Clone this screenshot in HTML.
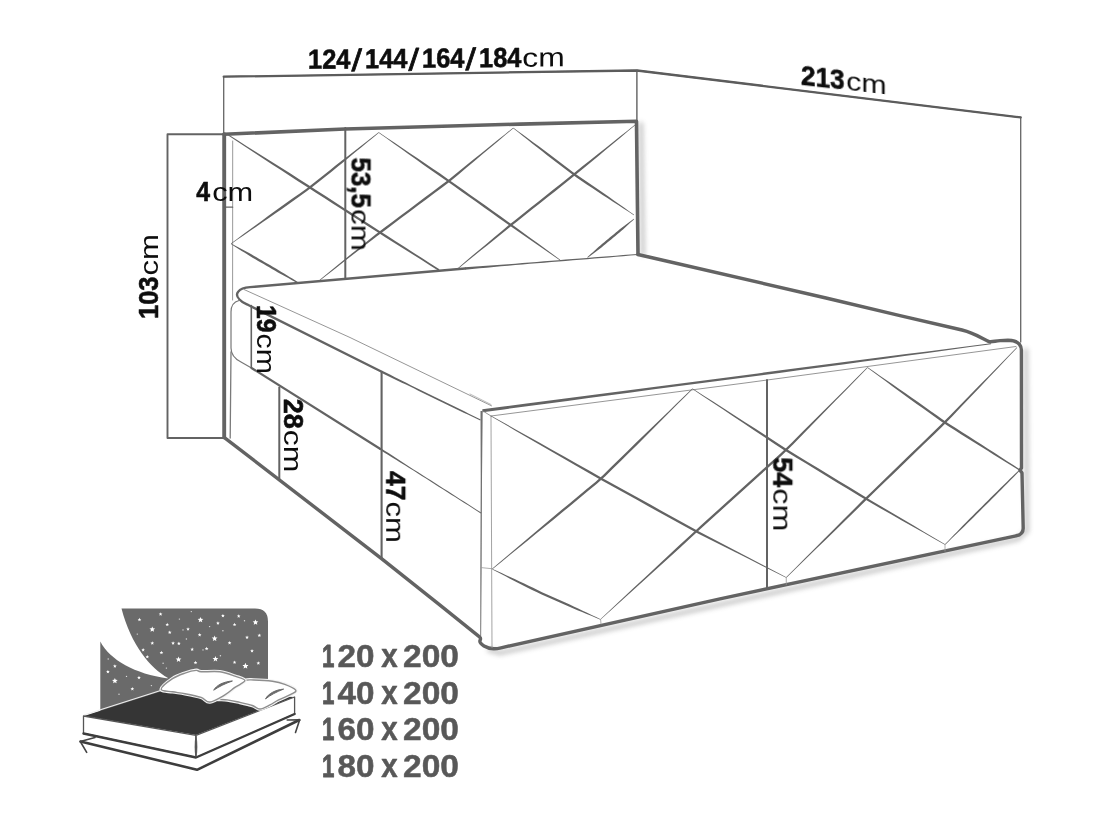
<!DOCTYPE html>
<html lang="pl">
<head>
<meta charset="utf-8">
<title>Wymiary łóżka kontynentalnego</title>
<style>
html,body{margin:0;padding:0;background:#fff;}
body{width:1101px;height:825px;overflow:hidden;}
svg{display:block;}
svg text{font-family:"Liberation Sans",sans-serif;}
</style>
</head>
<body>
<svg width="1101" height="825" viewBox="0 0 1101 825">
<defs>
<filter id="blur3" x="-20%" y="-20%" width="140%" height="140%"><feGaussianBlur stdDeviation="2.4"/></filter>
<filter id="soft" x="-5%" y="-5%" width="110%" height="110%"><feGaussianBlur stdDeviation="0.45"/></filter>
</defs>
<rect x="0" y="0" width="1101" height="825" fill="#ffffff"/>
<g filter="url(#blur3)" opacity="0.45" fill="none" stroke="#777" stroke-width="4" stroke-linecap="round" stroke-linejoin="round">
<polyline points="641,124 643,254"/>
<polyline points="1026,350 1027,531 1018,539 500,653 489,650"/>
</g>
<g filter="url(#soft)">
<polyline points="223.70,134.00 223.70,76.70 637.00,70.50 1020.70,117.40 1020.70,342.00" fill="none" stroke="#666" stroke-width="1.3" stroke-linecap="round" stroke-linejoin="round" />
<polyline points="223.70,76.70 637.00,70.50 1020.70,117.40" fill="none" stroke="#5c5c5c" stroke-width="2.3" stroke-linecap="round" stroke-linejoin="round" />
<polyline points="636.90,70.50 636.90,121.00" fill="none" stroke="#606060" stroke-width="1.4" stroke-linecap="round" stroke-linejoin="round" />
<polyline points="224.00,134.30 167.50,134.30 167.50,438.00 224.00,438.00" fill="none" stroke="#636363" stroke-width="1.9" stroke-linecap="round" stroke-linejoin="round" />
<polyline points="232.70,141.00 232.60,300.00" fill="none" stroke="#999" stroke-width="1.0" stroke-linecap="round" stroke-linejoin="round" />
<polyline points="231.00,352.00 230.20,438.00" fill="none" stroke="#7a7a7a" stroke-width="1.3" stroke-linecap="round" stroke-linejoin="round" />
<polygon points="228.23,135.62 236.95,141.32 245.66,147.02 254.38,152.72 263.10,158.42 271.81,164.13 280.53,169.83 289.25,175.53 298.00,181.17 306.77,186.79 315.53,192.42 324.29,198.05 333.05,203.69 341.81,209.32 350.57,214.95 359.34,220.58 368.10,226.21 376.86,231.84 385.67,237.40 394.49,242.95 403.31,248.49 412.12,254.04 420.94,259.58 429.75,265.13 438.57,270.68 439.43,269.32 430.67,263.70 421.90,258.07 413.14,252.44 404.37,246.81 395.61,241.19 386.85,235.56 378.10,229.92 369.34,224.28 360.58,218.65 351.82,213.02 343.06,207.38 334.30,201.75 325.53,196.12 316.77,190.49 308.01,184.86 299.25,179.23 290.47,173.62 281.66,168.07 272.84,162.52 264.03,156.98 255.21,151.43 246.40,145.88 237.58,140.33 228.77,134.78" fill="#636363"/>
<polygon points="378.56,132.27 372.47,136.99 366.38,141.71 360.28,146.44 354.19,151.16 348.09,155.88 342.00,160.61 335.91,165.33 329.87,170.13 323.85,174.95 317.83,179.76 311.81,184.58 305.69,189.15 299.41,193.63 293.13,198.10 286.85,202.57 280.57,207.04 274.31,211.53 268.10,216.10 261.88,220.67 255.67,225.23 249.46,229.80 243.25,234.37 237.04,238.94 230.83,243.51 231.17,243.99 237.52,239.62 243.87,235.24 250.22,230.87 256.57,226.49 262.92,222.12 269.26,217.74 275.61,213.37 281.91,208.91 288.19,204.44 294.47,199.97 300.75,195.50 307.03,191.03 313.25,186.37 319.27,181.56 325.29,176.74 331.31,171.93 337.31,167.09 343.26,162.18 349.21,157.27 355.15,152.37 361.10,147.46 367.05,142.55 372.99,137.64 378.94,132.73" fill="#636363"/>
<polygon points="378.58,132.75 386.10,138.10 393.62,143.46 401.15,148.81 408.67,154.17 416.19,159.53 423.71,164.88 431.24,170.24 438.81,175.51 446.40,180.77 453.94,186.09 461.47,191.43 469.00,196.78 476.53,202.12 484.06,207.47 491.59,212.81 499.12,218.15 506.66,223.48 514.25,228.74 521.83,234.01 529.42,239.27 537.01,244.53 544.59,249.80 552.18,255.06 559.77,260.33 560.23,259.67 552.77,254.24 545.30,248.81 537.83,243.37 530.37,237.94 522.90,232.51 515.43,227.07 507.97,221.64 500.45,216.28 492.92,210.93 485.39,205.59 477.86,200.25 470.33,194.90 462.80,189.56 455.27,184.22 447.71,178.88 440.12,173.62 432.52,168.38 424.86,163.22 417.21,158.06 409.55,152.90 401.89,147.74 394.24,142.58 386.58,137.42 378.92,132.25" fill="#636363"/>
<polygon points="513.06,127.77 505.07,134.18 497.08,140.60 489.09,147.01 481.09,153.42 473.10,159.84 465.11,166.25 457.12,172.66 449.19,179.15 441.07,185.32 432.87,191.46 424.67,197.60 416.47,203.74 408.27,209.89 400.07,216.03 391.87,222.17 383.67,228.32 375.53,234.58 367.54,241.00 359.55,247.42 351.56,253.83 343.58,260.26 335.64,266.75 327.71,273.24 319.78,279.73 320.22,280.27 328.29,273.96 336.36,267.65 344.43,261.33 352.54,255.08 360.67,248.84 368.79,242.60 376.92,236.35 385.05,230.16 393.25,224.01 401.45,217.87 409.65,211.73 417.85,205.59 426.05,199.44 434.25,193.30 442.45,187.16 450.65,180.93 458.55,174.41 466.39,167.81 474.23,161.21 482.07,154.62 489.92,148.02 497.76,141.42 505.60,134.83 513.44,128.23" fill="#636363"/>
<polygon points="513.07,128.24 517.93,132.09 522.79,135.95 527.65,139.80 532.52,143.66 537.38,147.51 542.24,151.37 547.10,155.22 552.02,159.00 556.95,162.76 561.89,166.52 566.82,170.28 571.76,174.04 576.87,177.66 582.00,181.15 587.14,184.63 592.27,188.11 597.42,191.57 602.62,194.95 607.83,198.33 613.03,201.72 618.23,205.10 623.43,208.48 628.63,211.87 633.83,215.25 634.17,214.75 629.10,211.17 624.03,207.59 618.96,204.02 613.89,200.44 608.82,196.86 603.76,193.28 598.69,189.70 593.56,186.20 588.43,182.72 583.29,179.24 578.16,175.76 573.15,172.22 568.22,168.45 563.28,164.69 558.35,160.93 553.42,157.17 548.47,153.43 543.46,149.76 538.46,146.10 533.45,142.43 528.45,138.76 523.44,135.10 518.44,131.43 513.43,127.76" fill="#636363"/>
<polygon points="634.81,124.77 627.38,130.67 619.94,136.58 612.51,142.49 605.07,148.39 597.63,154.30 590.20,160.20 582.76,166.11 575.39,172.09 567.99,178.01 560.56,183.92 553.12,189.83 545.69,195.74 538.26,201.65 530.83,207.56 523.40,213.47 515.97,219.38 508.56,225.34 501.28,231.44 494.01,237.55 486.74,243.65 479.47,249.76 472.19,255.86 464.92,261.97 457.77,268.23 458.23,268.77 465.51,262.68 472.92,256.75 480.33,250.82 487.75,244.88 495.16,238.95 502.57,233.02 509.99,227.08 517.40,221.18 524.83,215.27 532.26,209.36 539.69,203.45 547.12,197.54 554.56,191.63 561.99,185.72 569.42,179.81 576.84,173.87 584.19,167.86 591.47,161.77 598.76,155.68 606.05,149.59 613.33,143.50 620.62,137.41 627.90,131.32 635.19,125.23" fill="#636363"/>
<polygon points="230.85,244.01 233.56,245.73 236.27,247.44 238.98,249.16 241.69,250.88 244.41,252.59 247.12,254.31 249.83,256.03 252.59,257.66 255.36,259.27 258.13,260.89 260.90,262.50 263.67,264.12 266.44,265.73 269.21,267.35 271.98,268.96 274.75,270.58 277.53,272.18 280.34,273.73 283.15,275.28 285.96,276.82 288.77,278.37 291.58,279.92 294.39,281.47 297.20,283.02 297.80,281.98 295.07,280.30 292.34,278.62 289.60,276.94 286.87,275.26 284.14,273.58 281.41,271.90 278.68,270.22 275.91,268.59 273.14,266.98 270.37,265.36 267.60,263.75 264.83,262.13 262.06,260.52 259.29,258.90 256.52,257.29 253.75,255.67 250.96,254.08 248.13,252.57 245.30,251.05 242.47,249.54 239.64,248.03 236.81,246.52 233.98,245.00 231.15,243.49" fill="#636363"/>
<polygon points="633.81,218.77 631.80,220.28 629.78,221.80 627.77,223.31 625.76,224.82 623.74,226.34 621.73,227.85 619.72,229.36 617.77,230.95 615.83,232.55 613.89,234.16 611.95,235.76 610.02,237.36 608.08,238.97 606.14,240.57 604.20,242.18 602.27,243.78 600.34,245.40 598.47,247.09 596.60,248.77 594.73,250.45 592.86,252.14 590.99,253.82 589.12,255.51 587.24,257.19 587.76,257.81 589.76,256.28 591.76,254.76 593.77,253.24 595.77,251.71 597.77,250.19 599.78,248.66 601.78,247.14 603.73,245.55 605.67,243.95 607.61,242.34 609.55,240.74 611.48,239.14 613.42,237.53 615.36,235.93 617.30,234.32 619.23,232.72 621.16,231.10 623.02,229.40 624.88,227.71 626.74,226.01 628.60,224.32 630.47,222.62 632.33,220.93 634.19,219.23" fill="#636363"/>
<polyline points="224.20,437.40 224.20,134.30" fill="none" stroke="#636363" stroke-width="3.9" stroke-linecap="round" stroke-linejoin="round" />
<polyline points="224.20,134.30 345.00,129.00 425.00,126.70 520.00,124.10 636.50,121.30 638.00,254.50" fill="none" stroke="#636363" stroke-width="3.6" stroke-linecap="round" stroke-linejoin="round" />
<polyline points="224.40,207.20 232.60,207.20" fill="none" stroke="#636363" stroke-width="1.3" stroke-linecap="round" stroke-linejoin="round" />
<path d="M465,268.5 L250,287.2 C238,288.2 234,294 239.5,299.5 C242,302.5 245,303.5 248.3,305 L381.7,371.7" fill="none" stroke="#636363" stroke-width="2.3" stroke-linecap="round" stroke-linejoin="round" />
<polygon points="465.09,269.65 472.28,268.99 479.46,268.32 486.64,267.66 493.82,267.00 501.00,266.34 508.18,265.68 515.36,265.02 522.55,264.41 529.73,263.82 536.92,263.23 544.11,262.64 551.29,262.05 558.48,261.47 565.67,260.90 572.86,260.32 580.05,259.75 587.23,259.17 594.42,258.57 601.61,257.98 608.79,257.38 615.98,256.79 623.17,256.19 630.35,255.59 637.54,255.00 637.46,254.00 630.27,254.56 623.08,255.11 615.89,255.66 608.70,256.22 601.51,256.77 594.32,257.33 587.13,257.88 579.94,258.45 572.75,259.03 565.57,259.60 558.38,260.18 551.19,260.75 544.00,261.34 536.81,261.93 529.63,262.53 522.44,263.12 515.25,263.70 508.06,264.22 500.87,264.74 493.68,265.26 486.48,265.79 479.29,266.31 472.10,266.83 464.91,267.35" fill="#636363"/>
<polygon points="381.19,372.73 385.32,374.71 389.46,376.70 393.59,378.68 397.72,380.66 401.85,382.64 405.98,384.62 410.11,386.60 414.23,388.62 418.34,390.65 422.45,392.67 426.56,394.70 430.68,396.72 434.80,398.72 438.92,400.72 443.05,402.72 447.17,404.72 451.29,406.71 455.43,408.69 459.56,410.66 463.70,412.64 467.83,414.61 471.97,416.59 476.10,418.56 480.24,420.54 480.76,419.46 476.65,417.44 472.54,415.41 468.43,413.38 464.32,411.36 460.21,409.33 456.10,407.31 451.99,405.28 447.87,403.28 443.74,401.28 439.62,399.28 435.50,397.28 431.38,395.28 427.27,393.26 423.16,391.24 419.05,389.21 414.94,387.19 410.83,385.15 406.74,383.08 402.65,381.01 398.56,378.94 394.47,376.88 390.39,374.81 386.30,372.74 382.21,370.67" fill="#636363"/>
<polyline points="244.00,289.50 350.00,337.50 491.50,405.80" fill="none" stroke="#8a8a8a" stroke-width="0.9" stroke-linecap="round" stroke-linejoin="round" />
<path d="M638,254.5 L826,298 L900,315.6 L962,330 C975,333.2 983,339 989,341.6 C992,342.3 995,341 1000,340.6 L1008,340.3 C1016,340.3 1021,343.5 1021.4,350 L1021.5,468 L1020,470 L1022,473 L1023.2,528 C1023.3,533 1021,535 1016,535.8 L720,598.8 L501,647.8 C494,649.5 488,648.5 484,646 C481,644 479.2,642.5 480,640.5 C480.8,639 481,638 479.5,636.8 L440,605.2 L381.2,558.3 L224.4,437.6" fill="none" stroke="#636363" stroke-width="3.4" stroke-linecap="round" stroke-linejoin="round" />
<path d="M239,300.5 C233,302 231,306 231,312 L231,348 C231,355 235,359 241,362 L251.5,368" fill="none" stroke="#777" stroke-width="1.2" stroke-linecap="round" stroke-linejoin="round" />
<polyline points="251.50,368.00 380.00,448.75" fill="none" stroke="#636363" stroke-width="2.2" stroke-linecap="round" stroke-linejoin="round" />
<polygon points="379.46,449.59 383.71,452.22 387.95,454.84 392.20,457.46 396.44,460.08 400.68,462.70 404.93,465.32 409.17,467.94 413.39,470.60 417.60,473.28 421.81,475.95 426.02,478.62 430.23,481.30 434.44,483.98 438.64,486.66 442.85,489.34 447.05,492.02 451.26,494.70 455.48,497.37 459.69,500.04 463.90,502.70 468.12,505.37 472.33,508.04 476.54,510.71 480.76,513.38 481.24,512.62 477.04,509.93 472.84,507.24 468.65,504.54 464.45,501.85 460.25,499.16 456.05,496.47 451.85,493.78 447.65,491.09 443.44,488.41 439.23,485.73 435.03,483.05 430.82,480.37 426.61,477.70 422.40,475.02 418.19,472.35 413.98,469.68 409.78,466.99 405.60,464.26 401.42,461.54 397.24,458.81 393.07,456.09 388.89,453.36 384.71,450.63 380.54,447.91" fill="#636363"/>
<polygon points="482.70,412.24 503.88,409.40 525.06,406.57 546.24,403.74 567.42,400.91 588.61,398.07 609.79,395.24 630.97,392.41 652.16,389.61 673.35,386.83 694.53,384.04 715.72,381.26 736.91,378.47 758.10,375.68 779.29,372.88 800.47,370.08 821.66,367.28 842.84,364.46 864.02,361.57 885.19,358.67 906.36,355.78 927.54,352.88 948.71,349.99 969.89,347.09 991.06,344.20 990.94,343.30 969.74,346.01 948.54,348.71 927.34,351.41 906.14,354.11 884.94,356.82 863.75,359.52 842.55,362.22 821.36,365.00 800.17,367.80 778.98,370.60 757.80,373.40 736.61,376.19 715.42,378.98 694.23,381.76 673.05,384.55 651.86,387.33 630.67,390.11 609.47,392.84 588.28,395.58 567.08,398.32 545.89,401.05 524.69,403.79 503.50,406.53 482.30,409.26" fill="#636363"/>
<polyline points="491.00,416.00 745.00,383.00 1016.00,346.50" fill="none" stroke="#8a8a8a" stroke-width="0.9" stroke-linecap="round" stroke-linejoin="round" />
<polygon points="480.50,411.00 480.53,420.37 480.56,429.75 480.58,439.12 480.61,448.50 480.64,457.87 480.67,467.25 480.70,476.62 480.67,486.00 480.64,495.37 480.61,504.75 480.57,514.12 480.53,523.50 480.49,532.87 480.45,542.25 480.41,551.62 480.37,561.00 480.34,570.37 480.33,579.75 480.31,589.12 480.30,598.50 480.29,607.87 480.28,617.25 480.26,626.62 480.25,636.00 481.15,636.00 481.22,626.63 481.29,617.25 481.35,607.88 481.42,598.50 481.49,589.13 481.56,579.75 481.63,570.38 481.67,561.00 481.71,551.63 481.75,542.25 481.79,532.88 481.83,523.50 481.87,514.13 481.91,504.75 481.94,495.38 481.97,486.00 482.02,476.63 482.12,467.25 482.22,457.88 482.31,448.50 482.41,439.13 482.51,429.75 482.60,420.38 482.70,411.00" fill="#707070"/>
<polyline points="481.00,567.60 492.50,568.75" fill="none" stroke="#999" stroke-width="0.8" stroke-linecap="round" stroke-linejoin="round" />
<polyline points="491.00,416.00 492.00,647.50" fill="none" stroke="#999" stroke-width="0.9" stroke-linecap="round" stroke-linejoin="round" />
<polyline points="482.50,410.75 491.00,416.00" fill="none" stroke="#888" stroke-width="0.9" stroke-linecap="round" stroke-linejoin="round" />
<polyline points="470.00,394.00 491.00,404.50" fill="none" stroke="#aaa" stroke-width="0.8" stroke-linecap="round" stroke-linejoin="round" />
<polygon points="490.83,416.30 502.95,423.35 515.08,430.40 527.21,437.44 539.33,444.49 551.46,451.53 563.59,458.58 575.71,465.62 587.88,472.59 600.07,479.54 612.36,486.32 624.64,493.09 636.93,499.86 649.21,506.63 661.49,513.40 673.77,520.17 686.05,526.94 698.42,533.63 710.95,539.94 723.47,546.24 736.00,552.55 748.53,558.85 761.06,565.16 773.59,571.46 786.11,577.77 786.39,577.23 773.97,570.72 761.55,564.20 749.13,557.69 736.71,551.17 724.29,544.66 711.87,538.14 699.45,531.63 687.16,524.93 674.88,518.16 662.60,511.39 650.32,504.62 638.04,497.85 625.75,491.08 613.47,484.31 601.21,477.54 589.02,470.59 576.83,463.66 564.59,456.81 552.36,449.96 540.12,443.11 527.88,436.25 515.65,429.40 503.41,422.55 491.17,415.70" fill="#636363"/>
<polygon points="692.29,388.54 684.21,396.32 676.12,404.11 668.04,411.89 659.96,419.67 651.88,427.46 643.79,435.24 635.71,443.03 627.69,450.88 619.69,458.75 611.69,466.62 603.69,474.49 595.41,481.89 586.77,489.06 578.13,496.22 569.50,503.39 560.86,510.55 552.24,517.73 543.68,524.99 535.12,532.24 526.55,539.50 517.99,546.75 509.43,554.01 500.87,561.26 492.31,568.52 492.69,568.98 501.40,561.91 510.12,554.83 518.83,547.76 527.54,540.69 536.25,533.61 544.96,526.54 553.68,519.47 562.33,512.32 570.97,505.16 579.60,497.99 588.24,490.83 596.88,483.67 605.31,476.13 613.31,468.26 621.31,460.39 629.31,452.52 637.29,444.64 645.21,436.68 653.12,428.73 661.04,420.78 668.96,412.82 676.88,404.87 684.79,396.92 692.71,388.96" fill="#636363"/>
<polygon points="692.34,389.00 702.61,395.88 712.89,402.75 723.17,409.62 733.45,416.50 743.73,423.37 754.01,430.25 764.28,437.12 774.61,443.92 784.96,450.69 795.54,457.16 806.10,463.59 816.66,470.03 827.21,476.46 837.77,482.90 848.33,489.33 858.89,495.76 869.54,502.10 880.30,508.19 891.05,514.29 901.81,520.38 912.57,526.48 923.33,532.57 934.09,538.67 944.85,544.76 945.15,544.24 934.51,537.94 923.87,531.64 913.23,525.34 902.59,519.05 891.95,512.75 881.31,506.45 870.67,500.15 860.09,493.80 849.53,487.37 838.97,480.93 828.41,474.50 817.85,468.06 807.29,461.63 796.73,455.19 786.22,448.77 775.87,441.99 765.52,435.24 755.11,428.56 744.70,421.88 734.29,415.21 723.89,408.53 713.48,401.85 703.07,395.18 692.66,388.50" fill="#636363"/>
<polygon points="867.29,367.29 856.45,378.09 845.61,388.89 834.78,399.69 823.94,410.49 813.11,421.29 802.27,432.09 791.43,442.90 780.46,453.46 769.12,463.73 757.78,474.00 746.44,484.26 735.10,494.53 723.76,504.80 712.41,515.07 701.07,525.33 689.77,535.66 678.53,546.04 667.35,556.48 656.18,566.93 645.00,577.38 633.82,587.83 622.65,598.28 611.47,608.73 600.30,619.18 600.70,619.62 612.04,609.35 623.37,599.07 634.71,588.79 646.05,578.52 657.38,568.24 668.72,557.97 680.05,547.69 691.32,537.35 702.61,527.04 713.96,516.77 725.30,506.50 736.64,496.24 747.98,485.97 759.32,475.70 770.67,465.43 782.01,455.17 793.04,444.48 803.71,433.51 814.37,422.55 825.04,411.58 835.71,400.61 846.38,389.64 857.05,378.68 867.71,367.71" fill="#636363"/>
<polygon points="867.33,367.74 873.49,372.28 879.65,376.81 885.82,381.34 891.98,385.88 898.14,390.41 904.31,394.94 910.47,399.48 916.69,403.93 922.92,408.37 929.15,412.81 935.39,417.24 941.62,421.68 948.04,425.95 954.50,430.04 960.97,434.13 967.43,438.23 973.90,442.31 980.41,446.33 986.91,450.36 993.41,454.39 999.92,458.42 1006.42,462.45 1012.93,466.48 1019.43,470.51 1020.07,469.49 1013.65,465.34 1007.23,461.18 1000.80,457.02 994.38,452.86 987.96,448.70 981.54,444.55 975.12,440.39 968.66,436.28 962.20,432.19 955.73,428.10 949.27,424.00 942.95,419.81 936.72,415.37 930.49,410.93 924.26,406.50 918.02,402.06 911.78,397.64 905.48,393.30 899.18,388.96 892.88,384.62 886.58,380.28 880.28,375.94 873.97,371.60 867.67,367.26" fill="#636363"/>
<polygon points="1016.78,347.29 1007.28,356.99 997.78,366.68 988.27,376.38 978.77,386.07 969.26,395.77 959.76,405.47 950.26,415.16 940.74,424.78 930.98,434.23 921.23,443.67 911.48,453.12 901.72,462.56 891.97,472.00 882.22,481.45 872.46,490.89 862.72,500.37 853.08,509.92 843.50,519.55 833.93,529.17 824.35,538.79 814.77,548.42 805.19,558.04 795.62,567.66 786.04,577.29 786.46,577.71 796.20,568.26 805.95,558.80 815.69,549.35 825.43,539.89 835.18,530.44 844.92,520.98 854.66,511.53 864.34,502.00 874.06,492.54 883.82,483.10 893.57,473.66 903.32,464.21 913.08,454.77 922.83,445.32 932.58,435.88 942.34,426.44 951.88,416.72 961.21,406.86 970.55,397.01 979.88,387.15 989.21,377.29 998.55,367.43 1007.88,357.57 1017.22,347.71" fill="#636363"/>
<polygon points="492.37,569.47 496.77,571.76 501.18,574.05 505.58,576.34 509.98,578.64 514.39,580.93 518.79,583.22 523.20,585.51 527.64,587.72 532.10,589.90 536.55,592.09 541.08,594.24 545.61,596.25 550.15,598.27 554.68,600.29 559.22,602.30 563.75,604.32 568.30,606.31 572.88,608.22 577.46,610.13 582.05,612.04 586.63,613.95 591.21,615.86 595.80,617.77 600.38,619.67 600.62,619.13 596.13,617.00 591.65,614.88 587.16,612.75 582.67,610.63 578.19,608.50 573.70,606.38 569.21,604.26 564.69,602.22 560.15,600.20 555.62,598.18 551.08,596.17 546.55,594.15 542.01,592.14 537.57,590.03 533.11,587.84 528.65,585.65 524.19,583.49 519.68,581.41 515.17,579.33 510.66,577.25 506.16,575.17 501.65,573.09 497.14,571.01 492.63,568.93" fill="#636363"/>
<polygon points="1019.40,469.65 1016.25,472.72 1013.10,475.79 1009.95,478.86 1006.80,481.92 1003.65,484.99 1000.50,488.06 997.35,491.13 994.23,494.23 991.12,497.34 988.00,500.44 984.89,503.54 981.77,506.65 978.66,509.75 975.55,512.86 972.43,515.96 969.32,519.06 966.21,522.18 963.15,525.34 960.09,528.50 957.03,531.65 953.97,534.81 950.91,537.97 947.85,541.13 944.79,544.29 945.21,544.71 948.38,541.66 951.55,538.61 954.72,535.56 957.89,532.51 961.05,529.46 964.22,526.41 967.39,523.36 970.52,520.27 973.63,517.16 976.75,514.06 979.86,510.96 982.98,507.85 986.09,504.75 989.20,501.64 992.32,498.54 995.43,495.44 998.54,492.32 1001.62,489.19 1004.70,486.05 1007.78,482.91 1010.86,479.77 1013.94,476.63 1017.02,473.49 1020.10,470.35" fill="#636363"/>
<polyline points="600.60,619.40 601.00,624.00" fill="none" stroke="#999" stroke-width="0.8" stroke-linecap="round" stroke-linejoin="round" />
<polyline points="786.25,577.50 786.25,584.50" fill="none" stroke="#999" stroke-width="0.8" stroke-linecap="round" stroke-linejoin="round" />
<polyline points="945.00,544.50 945.00,551.00" fill="none" stroke="#999" stroke-width="0.8" stroke-linecap="round" stroke-linejoin="round" />
<polyline points="345.30,128.00 345.30,278.00" fill="none" stroke="#636363" stroke-width="2.0" stroke-linecap="round" stroke-linejoin="round" />
<polyline points="251.30,305.50 251.30,367.50" fill="none" stroke="#636363" stroke-width="1.6" stroke-linecap="round" stroke-linejoin="round" />
<polyline points="279.30,387.50 279.30,479.00" fill="none" stroke="#636363" stroke-width="2.0" stroke-linecap="round" stroke-linejoin="round" />
<polyline points="381.60,371.70 381.60,558.00" fill="none" stroke="#636363" stroke-width="2.1" stroke-linecap="round" stroke-linejoin="round" />
<polyline points="767.00,380.00 767.00,588.50" fill="none" stroke="#636363" stroke-width="2.0" stroke-linecap="round" stroke-linejoin="round" />
</g>
<g filter="url(#soft)">
<text transform="translate(308.00,68.80) skewY(-0.55)"><tspan x="0.00" y="0.00" font-size="27.5" font-weight="700" fill="#111" stroke="#111" stroke-width="0.6" stroke-linejoin="round" textLength="42.40" lengthAdjust="spacingAndGlyphs">124</tspan><tspan x="43.60" y="2.60" font-size="31" font-weight="400" fill="#111" stroke="#111" stroke-width="0.7" stroke-linejoin="round" textLength="10.50" lengthAdjust="spacingAndGlyphs">/</tspan><tspan x="57.00" y="0.00" font-size="27.5" font-weight="700" fill="#111" stroke="#111" stroke-width="0.6" stroke-linejoin="round" textLength="42.40" lengthAdjust="spacingAndGlyphs">144</tspan><tspan x="100.60" y="2.60" font-size="31" font-weight="400" fill="#111" stroke="#111" stroke-width="0.7" stroke-linejoin="round" textLength="10.50" lengthAdjust="spacingAndGlyphs">/</tspan><tspan x="114.00" y="0.00" font-size="27.5" font-weight="700" fill="#111" stroke="#111" stroke-width="0.6" stroke-linejoin="round" textLength="42.40" lengthAdjust="spacingAndGlyphs">164</tspan><tspan x="157.60" y="2.60" font-size="31" font-weight="400" fill="#111" stroke="#111" stroke-width="0.7" stroke-linejoin="round" textLength="10.50" lengthAdjust="spacingAndGlyphs">/</tspan><tspan x="171.00" y="0.00" font-size="27.5" font-weight="700" fill="#111" stroke="#111" stroke-width="0.6" stroke-linejoin="round" textLength="42.40" lengthAdjust="spacingAndGlyphs">184</tspan><tspan x="214.20" y="0.00" font-size="26.5" font-weight="400" fill="#111" textLength="42.50" lengthAdjust="spacingAndGlyphs">cm</tspan></text>
<text transform="translate(801.00,84.60) skewY(6.5)"><tspan x="0.00" y="0.00" font-size="27.5" font-weight="700" fill="#111" stroke="#111" stroke-width="0.6" stroke-linejoin="round" textLength="43.60" lengthAdjust="spacingAndGlyphs">213</tspan><tspan x="45.20" y="0.00" font-size="26.5" font-weight="400" fill="#111" textLength="40.50" lengthAdjust="spacingAndGlyphs">cm</tspan></text>
<text transform="translate(196.20,201.00) rotate(0)"><tspan x="0.00" y="0.00" font-size="27.5" font-weight="700" fill="#111" stroke="#111" stroke-width="0.6" stroke-linejoin="round" textLength="13.80" lengthAdjust="spacingAndGlyphs">4</tspan><tspan x="16.00" y="0.00" font-size="26.5" font-weight="400" fill="#111" textLength="41.00" lengthAdjust="spacingAndGlyphs">cm</tspan></text>
<text transform="translate(158.00,319.00) rotate(-90)"><tspan x="0.00" y="0.00" font-size="27.5" font-weight="700" fill="#111" stroke="#111" stroke-width="0.6" stroke-linejoin="round" textLength="42.50" lengthAdjust="spacingAndGlyphs">103</tspan><tspan x="43.50" y="0.00" font-size="26.5" font-weight="400" fill="#111" textLength="41.50" lengthAdjust="spacingAndGlyphs">cm</tspan></text>
<text transform="translate(351.50,157.50) rotate(90)"><tspan x="0.00" y="0.00" font-size="27.5" font-weight="700" fill="#111" stroke="#111" stroke-width="0.6" stroke-linejoin="round" textLength="50.50" lengthAdjust="spacingAndGlyphs">53,5</tspan><tspan x="51.50" y="0.00" font-size="26.5" font-weight="400" fill="#111" textLength="42.00" lengthAdjust="spacingAndGlyphs">cm</tspan></text>
<text transform="translate(257.00,305.00) rotate(90)"><tspan x="0.00" y="0.00" font-size="27.5" font-weight="700" fill="#111" stroke="#111" stroke-width="0.6" stroke-linejoin="round" textLength="27.50" lengthAdjust="spacingAndGlyphs">19</tspan><tspan x="28.50" y="0.00" font-size="26.5" font-weight="400" fill="#111" textLength="40.50" lengthAdjust="spacingAndGlyphs">cm</tspan></text>
<text transform="translate(283.50,398.80) rotate(90)"><tspan x="0.00" y="0.00" font-size="27.5" font-weight="700" fill="#111" stroke="#111" stroke-width="0.6" stroke-linejoin="round" textLength="30.00" lengthAdjust="spacingAndGlyphs">28</tspan><tspan x="31.00" y="0.00" font-size="26.5" font-weight="400" fill="#111" textLength="42.50" lengthAdjust="spacingAndGlyphs">cm</tspan></text>
<text transform="translate(386.20,471.00) rotate(90)"><tspan x="0.00" y="0.00" font-size="27.5" font-weight="700" fill="#111" stroke="#111" stroke-width="0.6" stroke-linejoin="round" textLength="29.50" lengthAdjust="spacingAndGlyphs">47</tspan><tspan x="30.50" y="0.00" font-size="26.5" font-weight="400" fill="#111" textLength="41.50" lengthAdjust="spacingAndGlyphs">cm</tspan></text>
<text transform="translate(773.30,457.30) rotate(90)"><tspan x="0.00" y="0.00" font-size="27.5" font-weight="700" fill="#111" stroke="#111" stroke-width="0.6" stroke-linejoin="round" textLength="30.00" lengthAdjust="spacingAndGlyphs">54</tspan><tspan x="31.00" y="0.00" font-size="26.5" font-weight="400" fill="#111" textLength="43.00" lengthAdjust="spacingAndGlyphs">cm</tspan></text>
<text transform="translate(0.00,666.90) rotate(0)"><tspan x="322.00" y="0.00" font-size="32.2" font-weight="700" fill="#595959" stroke="#595959" stroke-width="0.9" stroke-linejoin="round" textLength="12.40" lengthAdjust="spacingAndGlyphs">1</tspan><tspan x="337.60" y="0.00" font-size="32.2" font-weight="700" fill="#595959" stroke="#595959" stroke-width="0.5" stroke-linejoin="round" textLength="37.00" lengthAdjust="spacingAndGlyphs">20</tspan><tspan font-size="32.2" font-weight="700" fill="#595959"> </tspan><tspan x="381.20" y="0.00" font-size="33.5" font-weight="700" fill="#595959" stroke="#595959" stroke-width="0.5" stroke-linejoin="round" textLength="16.40" lengthAdjust="spacingAndGlyphs">x</tspan><tspan font-size="32.2" font-weight="700" fill="#595959"> </tspan><tspan x="403.00" y="0.00" font-size="32.2" font-weight="700" fill="#595959" stroke="#595959" stroke-width="0.5" stroke-linejoin="round" textLength="56.00" lengthAdjust="spacingAndGlyphs">200</tspan></text>
<text transform="translate(0.00,703.65) rotate(0)"><tspan x="322.00" y="0.00" font-size="32.2" font-weight="700" fill="#595959" stroke="#595959" stroke-width="0.9" stroke-linejoin="round" textLength="12.40" lengthAdjust="spacingAndGlyphs">1</tspan><tspan x="337.60" y="0.00" font-size="32.2" font-weight="700" fill="#595959" stroke="#595959" stroke-width="0.5" stroke-linejoin="round" textLength="37.00" lengthAdjust="spacingAndGlyphs">40</tspan><tspan font-size="32.2" font-weight="700" fill="#595959"> </tspan><tspan x="381.20" y="0.00" font-size="33.5" font-weight="700" fill="#595959" stroke="#595959" stroke-width="0.5" stroke-linejoin="round" textLength="16.40" lengthAdjust="spacingAndGlyphs">x</tspan><tspan font-size="32.2" font-weight="700" fill="#595959"> </tspan><tspan x="403.00" y="0.00" font-size="32.2" font-weight="700" fill="#595959" stroke="#595959" stroke-width="0.5" stroke-linejoin="round" textLength="56.00" lengthAdjust="spacingAndGlyphs">200</tspan></text>
<text transform="translate(0.00,740.40) rotate(0)"><tspan x="322.00" y="0.00" font-size="32.2" font-weight="700" fill="#595959" stroke="#595959" stroke-width="0.9" stroke-linejoin="round" textLength="12.40" lengthAdjust="spacingAndGlyphs">1</tspan><tspan x="337.60" y="0.00" font-size="32.2" font-weight="700" fill="#595959" stroke="#595959" stroke-width="0.5" stroke-linejoin="round" textLength="37.00" lengthAdjust="spacingAndGlyphs">60</tspan><tspan font-size="32.2" font-weight="700" fill="#595959"> </tspan><tspan x="381.20" y="0.00" font-size="33.5" font-weight="700" fill="#595959" stroke="#595959" stroke-width="0.5" stroke-linejoin="round" textLength="16.40" lengthAdjust="spacingAndGlyphs">x</tspan><tspan font-size="32.2" font-weight="700" fill="#595959"> </tspan><tspan x="403.00" y="0.00" font-size="32.2" font-weight="700" fill="#595959" stroke="#595959" stroke-width="0.5" stroke-linejoin="round" textLength="56.00" lengthAdjust="spacingAndGlyphs">200</tspan></text>
<text transform="translate(0.00,777.15) rotate(0)"><tspan x="322.00" y="0.00" font-size="32.2" font-weight="700" fill="#595959" stroke="#595959" stroke-width="0.9" stroke-linejoin="round" textLength="12.40" lengthAdjust="spacingAndGlyphs">1</tspan><tspan x="337.60" y="0.00" font-size="32.2" font-weight="700" fill="#595959" stroke="#595959" stroke-width="0.5" stroke-linejoin="round" textLength="37.00" lengthAdjust="spacingAndGlyphs">80</tspan><tspan font-size="32.2" font-weight="700" fill="#595959"> </tspan><tspan x="381.20" y="0.00" font-size="33.5" font-weight="700" fill="#595959" stroke="#595959" stroke-width="0.5" stroke-linejoin="round" textLength="16.40" lengthAdjust="spacingAndGlyphs">x</tspan><tspan font-size="32.2" font-weight="700" fill="#595959"> </tspan><tspan x="403.00" y="0.00" font-size="32.2" font-weight="700" fill="#595959" stroke="#595959" stroke-width="0.5" stroke-linejoin="round" textLength="56.00" lengthAdjust="spacingAndGlyphs">200</tspan></text>
</g>
<g filter="url(#soft)">
<path d="M121.5,608.6 L255,608.6 Q268,608.6 268,621.6 L268,700 L150,700 L168,678.1 C150,668 131,645 121.5,608.6 Z" fill="#6b6b6b"/>
<path d="M100.3,641.5 C110,660 135,674 168,678.4 L168,700 L100.3,712 Z" fill="#6b6b6b"/>
<polygon points="152.28,626.41 153.07,628.32 155.13,628.48 153.56,629.83 154.04,631.84 152.28,630.76 150.52,631.84 151.00,629.83 149.43,628.48 151.49,628.32" fill="#fff"/>
<polygon points="200.49,616.93 201.28,618.84 203.34,619.01 201.77,620.35 202.25,622.36 200.49,621.28 198.72,622.36 199.20,620.35 197.63,619.01 199.69,618.84" fill="#fff"/>
<polygon points="214.61,635.55 215.41,637.46 217.47,637.62 215.90,638.97 216.38,640.98 214.61,639.90 212.85,640.98 213.33,638.97 211.76,637.62 213.82,637.46" fill="#fff"/>
<polygon points="178.54,656.49 179.34,658.40 181.40,658.57 179.83,659.91 180.31,661.92 178.54,660.84 176.78,661.92 177.26,659.91 175.69,658.57 177.75,658.40" fill="#fff"/>
<polygon points="215.45,656.00 216.24,657.90 218.30,658.07 216.73,659.41 217.21,661.42 215.45,660.35 213.68,661.42 214.16,659.41 212.59,658.07 214.65,657.90" fill="#fff"/>
<polygon points="245.37,662.98 246.16,664.89 248.22,665.05 246.65,666.39 247.13,668.40 245.37,667.33 243.60,668.40 244.08,666.39 242.51,665.05 244.57,664.89" fill="#fff"/>
<polygon points="114.88,677.94 115.67,679.85 117.73,680.01 116.16,681.35 116.64,683.36 114.88,682.29 113.12,683.36 113.60,681.35 112.03,680.01 114.09,679.85" fill="#fff"/>
<polygon points="255.51,619.43 256.30,621.33 258.36,621.50 256.79,622.84 257.27,624.85 255.51,623.78 253.74,624.85 254.22,622.84 252.65,621.50 254.71,621.33" fill="#fff"/>
<polygon points="245.53,662.98 246.33,664.89 248.39,665.05 246.82,666.39 247.30,668.40 245.53,667.33 243.77,668.40 244.25,666.39 242.68,665.05 244.74,664.89" fill="#fff"/>
<polygon points="160.59,612.22 161.09,613.42 162.40,613.53 161.40,614.38 161.71,615.65 160.59,614.97 159.47,615.65 159.78,614.38 158.78,613.53 160.09,613.42" fill="#fff"/>
<polygon points="139.48,617.70 139.98,618.91 141.29,619.01 140.29,619.87 140.60,621.14 139.48,620.46 138.36,621.14 138.67,619.87 137.67,619.01 138.98,618.91" fill="#fff"/>
<polygon points="167.24,622.69 167.74,623.90 169.05,624.00 168.05,624.85 168.36,626.12 167.24,625.44 166.12,626.12 166.43,624.85 165.43,624.00 166.74,623.90" fill="#fff"/>
<polygon points="169.73,630.50 170.24,631.71 171.54,631.81 170.55,632.66 170.85,633.94 169.73,633.26 168.62,633.94 168.92,632.66 167.93,631.81 169.23,631.71" fill="#fff"/>
<polygon points="188.02,627.18 188.52,628.38 189.83,628.49 188.83,629.34 189.14,630.61 188.02,629.93 186.90,630.61 187.21,629.34 186.21,628.49 187.52,628.38" fill="#fff"/>
<polygon points="199.65,632.99 200.16,634.20 201.46,634.31 200.47,635.16 200.77,636.43 199.65,635.75 198.54,636.43 198.84,635.16 197.85,634.31 199.15,634.20" fill="#fff"/>
<polygon points="217.94,621.36 218.44,622.57 219.75,622.67 218.75,623.52 219.06,624.80 217.94,624.11 216.82,624.80 217.13,623.52 216.13,622.67 217.44,622.57" fill="#fff"/>
<polygon points="222.93,613.88 223.43,615.09 224.73,615.19 223.74,616.04 224.04,617.32 222.93,616.63 221.81,617.32 222.11,616.04 221.12,615.19 222.42,615.09" fill="#fff"/>
<polygon points="238.72,614.21 239.22,615.42 240.52,615.52 239.53,616.37 239.83,617.65 238.72,616.97 237.60,617.65 237.90,616.37 236.91,615.52 238.21,615.42" fill="#fff"/>
<polygon points="234.56,622.69 235.06,623.90 236.37,624.00 235.37,624.85 235.68,626.12 234.56,625.44 233.44,626.12 233.75,624.85 232.75,624.00 234.06,623.90" fill="#fff"/>
<polygon points="247.03,635.49 247.53,636.70 248.83,636.80 247.84,637.65 248.14,638.92 247.03,638.24 245.91,638.92 246.21,637.65 245.22,636.80 246.53,636.70" fill="#fff"/>
<polygon points="229.57,640.97 230.08,642.18 231.38,642.29 230.39,643.14 230.69,644.41 229.57,643.73 228.46,644.41 228.76,643.14 227.77,642.29 229.07,642.18" fill="#fff"/>
<polygon points="152.28,641.30 152.78,642.51 154.09,642.62 153.09,643.47 153.40,644.74 152.28,644.06 151.16,644.74 151.47,643.47 150.47,642.62 151.78,642.51" fill="#fff"/>
<polygon points="173.06,641.30 173.56,642.51 174.87,642.62 173.87,643.47 174.18,644.74 173.06,644.06 171.94,644.74 172.25,643.47 171.25,642.62 172.56,642.51" fill="#fff"/>
<polygon points="178.88,641.64 179.38,642.85 180.68,642.95 179.69,643.80 179.99,645.07 178.88,644.39 177.76,645.07 178.06,643.80 177.07,642.95 178.37,642.85" fill="#fff"/>
<polygon points="143.14,647.95 143.64,649.16 144.95,649.27 143.95,650.12 144.26,651.39 143.14,650.71 142.02,651.39 142.33,650.12 141.33,649.27 142.64,649.16" fill="#fff"/>
<polygon points="161.42,650.78 161.93,651.99 163.23,652.09 162.24,652.94 162.54,654.22 161.42,653.53 160.31,654.22 160.61,652.94 159.62,652.09 160.92,651.99" fill="#fff"/>
<polygon points="147.29,654.94 147.80,656.14 149.10,656.25 148.11,657.10 148.41,658.37 147.29,657.69 146.18,658.37 146.48,657.10 145.49,656.25 146.79,656.14" fill="#fff"/>
<polygon points="192.17,647.46 192.68,648.66 193.98,648.77 192.99,649.62 193.29,650.89 192.17,650.21 191.06,650.89 191.36,649.62 190.37,648.77 191.67,648.66" fill="#fff"/>
<polygon points="206.64,646.79 207.14,648.00 208.44,648.10 207.45,648.95 207.75,650.23 206.64,649.55 205.52,650.23 205.82,648.95 204.83,648.10 206.13,648.00" fill="#fff"/>
<polygon points="195.50,660.75 196.00,661.96 197.31,662.07 196.31,662.92 196.62,664.19 195.50,663.51 194.38,664.19 194.69,662.92 193.69,662.07 195.00,661.96" fill="#fff"/>
<polygon points="234.56,660.42 235.06,661.63 236.37,661.73 235.37,662.58 235.68,663.86 234.56,663.18 233.44,663.86 233.75,662.58 232.75,661.73 234.06,661.63" fill="#fff"/>
<polygon points="252.01,649.12 252.52,650.33 253.82,650.43 252.83,651.28 253.13,652.55 252.01,651.87 250.90,652.55 251.20,651.28 250.21,650.43 251.51,650.33" fill="#fff"/>
<polygon points="114.88,664.24 115.38,665.45 116.69,665.56 115.69,666.41 116.00,667.68 114.88,667.00 113.76,667.68 114.07,666.41 113.07,665.56 114.38,665.45" fill="#fff"/>
<polygon points="107.90,669.90 108.40,671.10 109.71,671.21 108.71,672.06 109.02,673.33 107.90,672.65 106.78,673.33 107.09,672.06 106.09,671.21 107.40,671.10" fill="#fff"/>
<polygon points="138.98,675.71 139.49,676.92 140.79,677.03 139.80,677.88 140.10,679.15 138.98,678.47 137.87,679.15 138.17,677.88 137.18,677.03 138.48,676.92" fill="#fff"/>
<polygon points="132.33,687.02 132.84,688.22 134.14,688.33 133.15,689.18 133.45,690.45 132.33,689.77 131.22,690.45 131.52,689.18 130.53,688.33 131.83,688.22" fill="#fff"/>
<polygon points="259.33,633.49 259.83,634.70 261.14,634.81 260.14,635.66 260.45,636.93 259.33,636.25 258.21,636.93 258.52,635.66 257.52,634.81 258.83,634.70" fill="#fff"/>
<polygon points="258.33,661.25 258.83,662.46 260.14,662.56 259.14,663.42 259.45,664.69 258.33,664.01 257.21,664.69 257.52,663.42 256.52,662.56 257.83,662.46" fill="#fff"/>
<circle cx="119.0" cy="694.2" r="0.7" fill="#ddd"/>
<circle cx="126.5" cy="676.4" r="0.7" fill="#ddd"/>
<circle cx="166.4" cy="668.1" r="0.7" fill="#ddd"/>
<circle cx="191.3" cy="611.6" r="0.7" fill="#ddd"/>
<circle cx="179.4" cy="619.1" r="0.7" fill="#ddd"/>
<circle cx="183.0" cy="629.9" r="0.7" fill="#ddd"/>
<circle cx="244.5" cy="620.8" r="0.7" fill="#ddd"/>
<circle cx="137.3" cy="634.1" r="0.7" fill="#ddd"/>
<circle cx="186.4" cy="639.0" r="0.7" fill="#ddd"/>
<circle cx="203.0" cy="649.9" r="0.7" fill="#ddd"/>
<circle cx="220.4" cy="655.7" r="0.7" fill="#ddd"/>
<circle cx="163.1" cy="663.2" r="0.7" fill="#ddd"/>
<circle cx="222.9" cy="630.7" r="0.7" fill="#ddd"/>
<circle cx="209.6" cy="626.6" r="0.7" fill="#ddd"/>
<circle cx="108.2" cy="659.0" r="0.7" fill="#ddd"/>
<circle cx="151.4" cy="685.6" r="0.7" fill="#ddd"/>
<polygon points="84,716 160.6,691.5 294.6,697 196,735" fill="#363636"/>
<polyline points="84.00,715.00 160.60,690.50" fill="none" stroke="#eee" stroke-width="1.2" stroke-linecap="round" stroke-linejoin="round" />
<polygon points="83.5,716 196,735.3 196,757.5 83.5,733.5" fill="#fff" stroke="#555" stroke-width="1.3" stroke-linejoin="round"/>
<polygon points="196,735.3 294.6,697 294.6,714 196,757.5" fill="#fff" stroke="#555" stroke-width="1.3" stroke-linejoin="round"/>
<polygon points="85,734 196,758 294,715 292,722 197,769.5 87,739" fill="#fff"/>
<polyline points="83.50,733.50 196.00,757.50 294.60,714.00" fill="none" stroke="#3c3c3c" stroke-width="2.4" stroke-linecap="round" stroke-linejoin="round" />
<path d="M196,736 C194.6,744 194.6,750 196,757 C197.4,750 197.4,744 196,736 Z" fill="#555" stroke="#555" stroke-width="0.6"/>
<polyline points="80.50,741.50 197.00,769.80 299.30,720.00" fill="none" stroke="#3c3c3c" stroke-width="2.6" stroke-linecap="round" stroke-linejoin="round" />
<polyline points="95.00,737.50 80.30,741.50 86.70,752.30" fill="none" stroke="#444" stroke-width="1.6" stroke-linecap="round" stroke-linejoin="round" />
<polyline points="287.20,720.00 299.60,719.90 295.50,732.40" fill="none" stroke="#444" stroke-width="1.6" stroke-linecap="round" stroke-linejoin="round" />
<path d="M244.9,680.6 C247.8,679.5 249.0,679.9 253.6,680.0 C258.2,680.1 267.2,680.5 272.4,681.2 C277.6,681.9 280.9,682.8 284.8,684.3 C288.7,685.8 294.2,688.3 295.5,689.9 C296.8,691.5 295.1,692.0 292.3,693.7 C289.5,695.4 282.3,698.0 278.6,699.9 C274.9,701.8 273.0,703.4 269.9,704.9 C266.8,706.4 262.8,708.9 259.9,709.0 C257.0,709.1 255.7,706.6 252.4,705.5 C249.1,704.4 244.1,703.3 239.9,702.4 C235.7,701.5 231.6,700.5 227.4,699.9 C223.2,699.3 215.1,699.9 214.9,698.7 C214.7,697.6 222.5,695.0 226.0,693.0 C229.5,691.0 232.8,688.6 236.0,686.5 C239.2,684.4 242.0,681.7 244.9,680.6 Z" fill="#fff" stroke="#f4f4f4" stroke-width="3.6" stroke-linejoin="round"/>
<path d="M244.9,680.6 C247.8,679.5 249.0,679.9 253.6,680.0 C258.2,680.1 267.2,680.5 272.4,681.2 C277.6,681.9 280.9,682.8 284.8,684.3 C288.7,685.8 294.2,688.3 295.5,689.9 C296.8,691.5 295.1,692.0 292.3,693.7 C289.5,695.4 282.3,698.0 278.6,699.9 C274.9,701.8 273.0,703.4 269.9,704.9 C266.8,706.4 262.8,708.9 259.9,709.0 C257.0,709.1 255.7,706.6 252.4,705.5 C249.1,704.4 244.1,703.3 239.9,702.4 C235.7,701.5 231.6,700.5 227.4,699.9 C223.2,699.3 215.1,699.9 214.9,698.7 C214.7,697.6 222.5,695.0 226.0,693.0 C229.5,691.0 232.8,688.6 236.0,686.5 C239.2,684.4 242.0,681.7 244.9,680.6 Z" fill="#fff" stroke="#8e8e8e" stroke-width="1.4" stroke-linejoin="round"/>
<path d="M161.2,689.3 C161.2,687.1 168.5,681.4 172.5,678.7 C176.5,676.0 181.1,674.5 185.0,673.1 C188.9,671.7 193.5,670.6 196.2,670.4 C198.9,670.2 197.2,671.6 201.2,671.8 C205.1,672.0 214.3,671.1 219.9,671.8 C225.5,672.5 230.7,674.7 234.9,676.2 C239.1,677.7 244.9,678.7 244.9,680.6 C244.9,682.5 238.2,685.0 234.9,687.4 C231.6,689.8 229.1,692.5 224.9,694.9 C220.7,697.3 213.9,701.6 209.9,702.0 C205.9,702.4 205.3,698.8 201.2,697.4 C197.0,696.0 189.8,694.6 185.0,693.7 C180.2,692.8 176.5,692.5 172.5,691.8 C168.5,691.1 161.2,691.5 161.2,689.3 Z" fill="#fff" stroke="#f4f4f4" stroke-width="3.6" stroke-linejoin="round"/>
<path d="M161.2,689.3 C161.2,687.1 168.5,681.4 172.5,678.7 C176.5,676.0 181.1,674.5 185.0,673.1 C188.9,671.7 193.5,670.6 196.2,670.4 C198.9,670.2 197.2,671.6 201.2,671.8 C205.1,672.0 214.3,671.1 219.9,671.8 C225.5,672.5 230.7,674.7 234.9,676.2 C239.1,677.7 244.9,678.7 244.9,680.6 C244.9,682.5 238.2,685.0 234.9,687.4 C231.6,689.8 229.1,692.5 224.9,694.9 C220.7,697.3 213.9,701.6 209.9,702.0 C205.9,702.4 205.3,698.8 201.2,697.4 C197.0,696.0 189.8,694.6 185.0,693.7 C180.2,692.8 176.5,692.5 172.5,691.8 C168.5,691.1 161.2,691.5 161.2,689.3 Z" fill="#fff" stroke="#8e8e8e" stroke-width="1.4" stroke-linejoin="round"/>
<path d="M213.7,690.2 C216.5,685 224,681.6 232.4,681.0 C225,683.6 219,686.6 213.7,690.2 Z" fill="#6a6a6a" stroke="#6a6a6a" stroke-width="1.0" stroke-linejoin="round"/>
<path d="M265.5,698.9 C268.5,693.5 275.5,689.8 283.6,689.1 C276.5,691.9 270.5,695 265.5,698.9 Z" fill="#6a6a6a" stroke="#6a6a6a" stroke-width="1.0" stroke-linejoin="round"/>
</g>
</svg>
</body>
</html>
